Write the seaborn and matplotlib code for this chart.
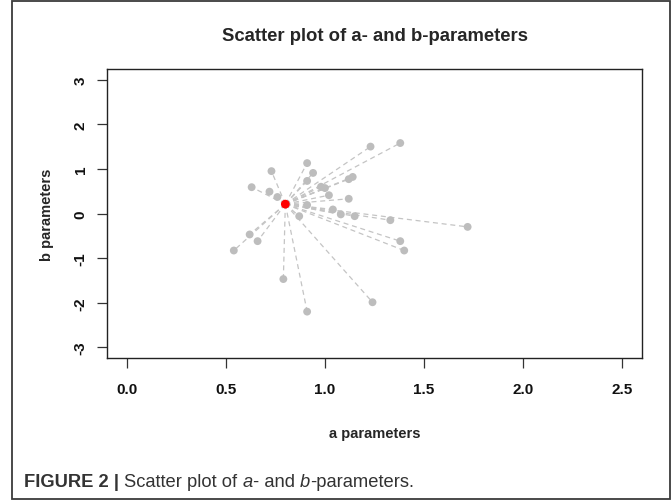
import matplotlib
matplotlib.use("Agg")
import matplotlib.pyplot as plt
from matplotlib.patches import Rectangle
import seaborn as sns
import pandas as pd

# Item parameter estimates (discrimination a, difficulty b)
a_params = [1.38, 1.23, 0.91, 0.73, 0.94, 1.14, 1.12, 0.91, 0.63, 0.72,
            0.98, 1.00, 0.76, 1.02, 1.12, 0.91, 0.87, 1.04, 1.08, 1.15,
            1.33, 1.72, 1.38, 1.40, 0.62, 0.66, 0.54, 0.79, 1.24, 0.91]
b_params = [1.58, 1.50, 1.13, 0.95, 0.91, 0.82, 0.77, 0.73, 0.59, 0.49,
            0.60, 0.57, 0.37, 0.41, 0.33, 0.19, -0.06, 0.09, -0.02, -0.06,
            -0.15, -0.30, -0.62, -0.83, -0.47, -0.62, -0.83, -1.47, -1.99, -2.20]
# Reference point the items are connected to
center_a = [0.80]
center_b = [0.21]

x_ticks = [0.0, 0.5, 1.0, 1.5, 2.0, 2.5]
x_tick_labels = ["0.0", "0.5", "1.0", "1.5", "2.0", "2.5"]
y_ticks = [-3, -2, -1, 0, 1, 2, 3]
y_tick_labels = ["-3", "-2", "-1", "0", "1", "2", "3"]

items = pd.DataFrame({"a": a_params, "b": b_params})
center = pd.DataFrame({"a": center_a, "b": center_b})

sns.set_style("white")
plt.rcParams["font.family"] = ["Liberation Sans", "DejaVu Sans"]

W, H = 672, 502
fig = plt.figure(figsize=(W / 100, H / 100), dpi=100)
fig.patch.set_facecolor("white")

# outer frame around the figure panel
fig.patches.append(Rectangle((12 / W, 2 / H), 658 / W, 498 / H,
                             transform=fig.transFigure, fill=False,
                             edgecolor="#3a3a3a", linewidth=1.3))

ax = fig.add_axes([107 / W, (H - 359) / H, 535 / W, 289 / H])

# dashed connectors from the reference point to every item
for xa, yb in zip(items["a"], items["b"]):
    ax.plot([center["a"][0], xa], [center["b"][0], yb], color="#c4c4c4",
            linestyle=(0, (4, 3)), linewidth=0.9, zorder=1)

sns.scatterplot(data=items, x="a", y="b", ax=ax, color="#bdbdbd", s=32,
                edgecolor="none", zorder=2)
sns.scatterplot(data=center, x="a", y="b", ax=ax, color="#ff0000", s=40,
                edgecolor="none", zorder=3)

ax.set_xlim(-0.1, 2.6)
ax.set_ylim(-3.24, 3.24)
ax.set_xticks(x_ticks)
ax.set_xticklabels(x_tick_labels, fontsize=11, fontweight="bold", color="#111111")
ax.set_yticks(y_ticks)
ax.set_yticklabels(y_tick_labels, fontsize=11, fontweight="bold", color="#111111",
                   rotation=90, va="center")
ax.tick_params(axis="both", direction="out", length=7, width=0.9,
               color="#333333", bottom=True, left=True)
ax.tick_params(axis="x", pad=10)
ax.tick_params(axis="y", pad=7)
for sp in ax.spines.values():
    sp.set_visible(True)
    sp.set_color("#222222")
    sp.set_linewidth(1.0)

ax.set_xlabel("a parameters", fontsize=10.5, fontweight="bold", labelpad=22)
ax.set_ylabel("b parameters", fontsize=10.5, fontweight="bold", labelpad=14)
ax.set_title("Scatter plot of a- and b-parameters", fontsize=13.3,
             fontweight="bold", pad=21)

# caption below the chart: bold label followed by text with italic symbols
renderer = fig.canvas.get_renderer()
pieces = [("FIGURE 2 | ", "bold", "normal"), ("Scatter plot of ", "normal", "normal"),
          ("a", "normal", "italic"), ("- and ", "normal", "normal"),
          ("b", "normal", "italic"), ("-parameters.", "normal", "normal")]
x_px = 24
for txt, wgt, sty in pieces:
    t = fig.text(x_px / W, (H - 483) / H, txt, fontsize=13.2, fontweight=wgt,
                 fontstyle=sty, color="#333333", va="center", ha="left")
    bb = t.get_window_extent(renderer=renderer)
    x_px += bb.width

fig.savefig("out.png", dpi=100)
